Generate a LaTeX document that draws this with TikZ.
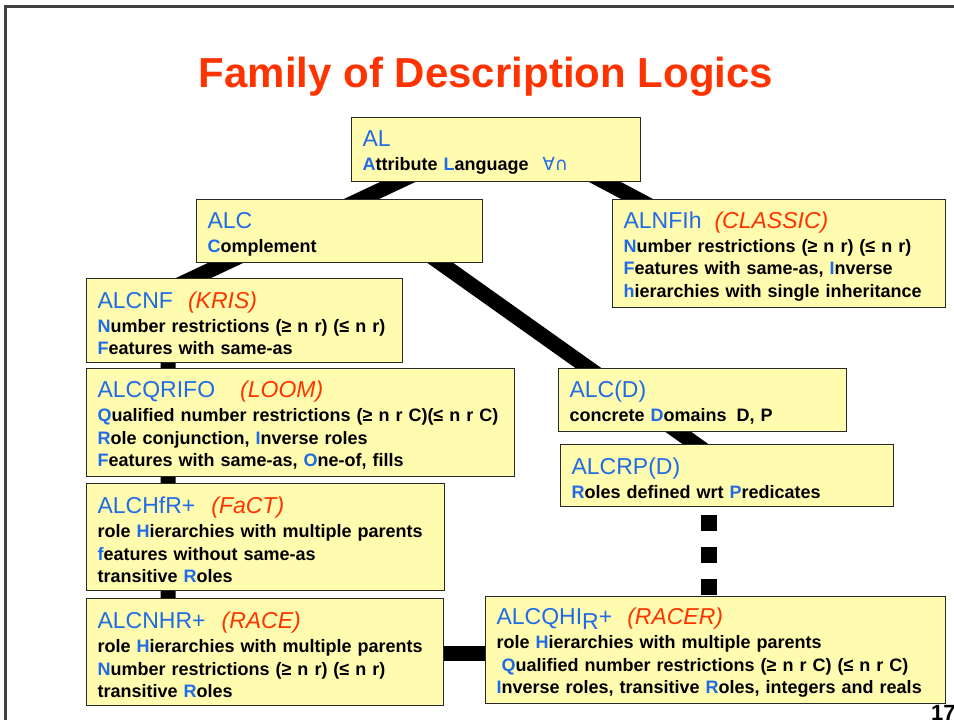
\documentclass[tikz,border=0pt]{standalone}
\usepackage{fontspec}
\setmainfont{Liberation Sans}
\newfontfamily\dlsymfont{DejaVu Sans}
\usetikzlibrary{backgrounds,calc}
\definecolor{dlblue}{RGB}{31,107,232}
\definecolor{dlred}{RGB}{255,51,0}
\definecolor{boxfill}{RGB}{255,251,175}
\definecolor{boxline}{RGB}{40,40,40}
\newcommand{\bl}[1]{\textcolor{dlblue}{#1}}
\newcommand{\dlhead}[1]{{\fontsize{23}{24}\selectfont\mdseries\rule{0pt}{22pt}#1}\\[1.5pt]}
\newcommand{\dlname}[1]{\textcolor{dlblue}{#1}}
\newcommand{\dlsys}[1]{\textcolor{dlred}{\itshape(#1)}}
\tikzset{
  dlbox/.style={draw=boxline, line width=1.2pt, fill=boxfill, anchor=north west,
    align=left, inner xsep=11pt, inner ysep=0pt,
    font=\fontsize{18}{22.5}\selectfont\bfseries},
  spine/.style={line width=15pt, black},
  dotline/.style={line width=16pt, black, dash pattern=on 16pt off 16pt, dash phase=24pt},
  frameline/.style={line width=3pt, black!75},
}
\begin{document}
\begin{tikzpicture}[x=1pt,y=-1pt]
\useasboundingbox (0,0) rectangle (954,720);
\clip (0,0) rectangle (954,720);

\draw[frameline] (954,6.5) -- (5,6.5) -- (5,720);

\node[font=\fontsize{42}{42}\selectfont\bfseries, text=dlred, anchor=base, inner sep=0pt] (title) at (486,87) {Family of Description Logics};

\node[dlbox, text width=267pt, minimum height=64pt] (al) at (351,117)
  {\dlhead{\dlname{AL}}\bl{A}ttribute \bl{L}anguage\hspace{14pt}{\dlsymfont\mdseries\fontsize{18}{18}\selectfont\textcolor{dlblue}{∀∩}}};

\node[dlbox, text width=264pt, minimum height=63pt] (alc) at (196,199)
  {\dlhead{\dlname{ALC}}\bl{C}omplement};

\node[dlbox, text width=311pt, minimum height=108pt] (alnfih) at (612,199)
  {\dlhead{\dlname{ALNFIh}\hspace{13pt}\dlsys{CLASSIC}}\bl{N}umber restrictions (≥ n r) (≤ n r)\\
   \bl{F}eatures with same-as, \bl{I}nverse\\
   \bl{h}ierarchies with single inheritance};

\node[dlbox, text width=294pt, minimum height=84pt] (alcnf) at (86,278)
  {\dlhead{\dlname{ALCNF}\hspace{15pt}\dlsys{KRIS}}\bl{N}umber restrictions (≥ n r) (≤ n r)\\
   \bl{F}eatures with same-as};

\node[dlbox, text width=406pt, minimum height=108pt] (alcqrifo) at (86,368)
  {\dlhead{\dlname{ALCQRIFO}\hspace{25pt}\dlsys{LOOM}}\bl{Q}ualified number restrictions (≥ n r C)(≤ n r C)\\
   \bl{R}ole conjunction, \bl{I}nverse roles\\
   \bl{F}eatures with same-as, \bl{O}ne-of, fills};

\node[dlbox, text width=266pt, minimum height=63pt] (alcd) at (558,368)
  {\dlhead{\dlname{ALC(D)}}concrete \bl{D}omains\hspace{10pt}D, P};

\node[dlbox, text width=311pt, minimum height=62pt] (alcrpd) at (560,444)
  {\dlhead{\dlname{ALCRP(D)}}\bl{R}oles defined wrt \bl{P}redicates};

\node[dlbox, text width=336pt, minimum height=107pt] (alchfr) at (86,483)
  {\dlhead{\dlname{ALCHfR+}\hspace{16pt}\dlsys{FaCT}}role \bl{H}ierarchies with multiple parents\\
   \bl{f}eatures without same-as\\
   transitive \bl{R}oles};

\node[dlbox, text width=335pt, minimum height=107pt] (alcnhr) at (86,598)
  {\dlhead{\dlname{ALCNHR+}\hspace{16pt}\dlsys{RACE}}role \bl{H}ierarchies with multiple parents\\
   \bl{N}umber restrictions (≥ n r) (≤ n r)\\
   transitive \bl{R}oles};

\node[dlbox, text width=438pt, minimum height=107pt] (alcqhi) at (485,596)
  {\dlhead{\dlname{ALCQHI\raisebox{-5pt}{R}+}\hspace{15pt}\dlsys{RACER}}role \bl{H}ierarchies with multiple parents\\
   \hspace{5pt}\bl{Q}ualified number restrictions (≥ n r C) (≤ n r C)\\
   \bl{I}nverse roles, transitive \bl{R}oles, integers and reals};

\node[font=\fontsize{22}{22}\selectfont\bfseries, anchor=base west, inner sep=0pt] (pnum) at (931,720) {17};

\begin{pgfonlayer}{background}
  \fill[white] (0,0) rectangle (954,720);
  \draw[spine] ($(al.north west)+(119,31)$) -- ($(alcnf.north west)+(82,12)$) -- ($(alcnhr.north west)+(82,52)$);
  \draw[spine] ($(al.north west)+(190,31)$) -- ($(alnfih.north west)+(121,51)$);
  \draw[spine] ($(alc.north west)+(198,31)$) -- ($(alcrpd.north west)+(179,31)$);
  \draw[spine] ($(alcnhr.north west)+(178,55)$) -- ($(alcqhi.north west)+(229,57)$);
  \draw[dotline] ($(alcrpd.south west)+(149,0)$) -- ($(alcqhi.north west)+(224,0)$);
\end{pgfonlayer}
\end{tikzpicture}
\end{document}
